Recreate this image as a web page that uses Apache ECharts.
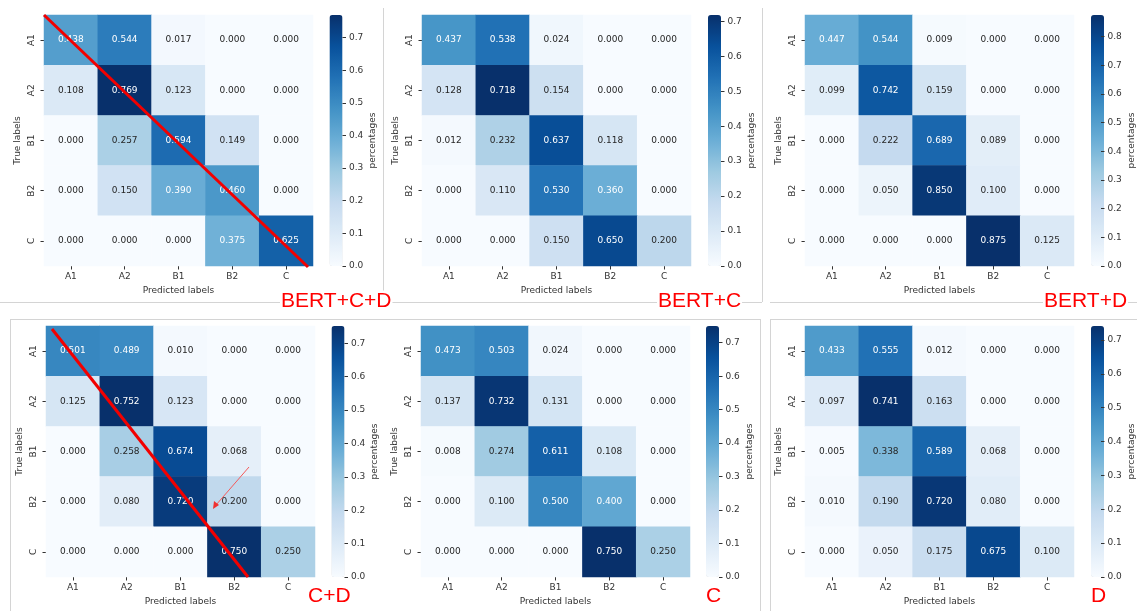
<!DOCTYPE html>
<html><head><meta charset="utf-8">
<script src="https://cdn.jsdelivr.net/npm/echarts@6/dist/echarts.min.js"></script>
<style>html,body{margin:0;padding:0;background:#fff}#c{width:1137px;height:611px}</style>
</head><body><div id="c"></div>
<script>
// ---------- data ----------
const classes = ['A1', 'A2', 'B1', 'B2', 'C'];
const panelTitles = ['BERT+C+D', 'BERT+C', 'BERT+D', 'C+D', 'C', 'D'];

const mBertCD = [
  [0.438, 0.544, 0.017, 0.000, 0.000],
  [0.108, 0.769, 0.123, 0.000, 0.000],
  [0.000, 0.257, 0.594, 0.149, 0.000],
  [0.000, 0.150, 0.390, 0.460, 0.000],
  [0.000, 0.000, 0.000, 0.375, 0.625]
];
const mBertC = [
  [0.437, 0.538, 0.024, 0.000, 0.000],
  [0.128, 0.718, 0.154, 0.000, 0.000],
  [0.012, 0.232, 0.637, 0.118, 0.000],
  [0.000, 0.110, 0.530, 0.360, 0.000],
  [0.000, 0.000, 0.150, 0.650, 0.200]
];
const mBertD = [
  [0.447, 0.544, 0.009, 0.000, 0.000],
  [0.099, 0.742, 0.159, 0.000, 0.000],
  [0.000, 0.222, 0.689, 0.089, 0.000],
  [0.000, 0.050, 0.850, 0.100, 0.000],
  [0.000, 0.000, 0.000, 0.875, 0.125]
];
const mCD = [
  [0.501, 0.489, 0.010, 0.000, 0.000],
  [0.125, 0.752, 0.123, 0.000, 0.000],
  [0.000, 0.258, 0.674, 0.068, 0.000],
  [0.000, 0.080, 0.720, 0.200, 0.000],
  [0.000, 0.000, 0.000, 0.750, 0.250]
];
const mC = [
  [0.473, 0.503, 0.024, 0.000, 0.000],
  [0.137, 0.732, 0.131, 0.000, 0.000],
  [0.008, 0.274, 0.611, 0.108, 0.000],
  [0.000, 0.100, 0.500, 0.400, 0.000],
  [0.000, 0.000, 0.000, 0.750, 0.250]
];
const mD = [
  [0.433, 0.555, 0.012, 0.000, 0.000],
  [0.097, 0.741, 0.163, 0.000, 0.000],
  [0.005, 0.338, 0.589, 0.068, 0.000],
  [0.010, 0.190, 0.720, 0.080, 0.000],
  [0.000, 0.050, 0.175, 0.675, 0.100]
];
const matrices = [mBertCD, mBertC, mBertD, mCD, mC, mD];

const cbTicks07 = [0.0, 0.1, 0.2, 0.3, 0.4, 0.5, 0.6, 0.7];
const cbTicks08 = [0.0, 0.1, 0.2, 0.3, 0.4, 0.5, 0.6, 0.7, 0.8];
const cbTicks = [cbTicks07, cbTicks07, cbTicks08, cbTicks07, cbTicks07, cbTicks07];

// ---------- layout / style ----------
const BLUES = ['#f7fbff','#deebf7','#c6dbef','#9ecae1','#6baed6','#4292c6','#2171b5','#08519c','#08306b'];
const layouts = [
  {left: 44,  top: 15,  cb: 329.5},
  {left: 422, top: 15,  cb: 708},
  {left: 805, top: 15,  cb: 1091},
  {left: 46,  top: 326, cb: 331.5},
  {left: 421, top: 326, cb: 706},
  {left: 805, top: 326, cb: 1091}
];
const GW = 269, GH = 251, CBW = 13;
const FONT = 'DejaVu Sans';
const FS = 9;
const TXT = '#333333';

function hex2rgb(h) { return [1, 3, 5].map(i => parseInt(h.substr(i, 2), 16)); }
function blues(t) {
  const n = BLUES.length - 1;
  const p = Math.min(Math.max(t, 0), 1) * n;
  const i = Math.min(Math.floor(p), n - 1);
  const f = p - i;
  const a = hex2rgb(BLUES[i]), b = hex2rgb(BLUES[i + 1]);
  return a.map((v, k) => v + (b[k] - v) * f);
}
function lum(rgb) {
  const lin = c => { c /= 255; return c <= 0.03928 ? c / 12.92 : Math.pow((c + 0.055) / 1.055, 2.4); };
  return 0.2126 * lin(rgb[0]) + 0.7152 * lin(rgb[1]) + 0.0722 * lin(rgb[2]);
}

const grid = [], xAxis = [], yAxis = [], series = [], visualMap = [];
matrices.forEach((m, i) => {
  const L = layouts[i];
  const vmax = Math.max(...m.flat());
  grid.push({left: L.left, top: L.top, width: GW, height: GH});
  grid.push({left: L.cb, top: L.top, width: CBW, height: GH});
  const tickStyle = {show: true, length: 3.5, alignWithLabel: true, lineStyle: {color: TXT, width: 1}};
  xAxis.push({
    gridIndex: 2 * i, type: 'category', data: classes, position: 'bottom',
    axisLine: {show: false}, axisTick: tickStyle,
    axisLabel: {fontSize: FS, color: TXT, margin: 6, fontFamily: FONT},
    splitLine: {show: false},
    name: 'Predicted labels', nameLocation: 'middle', nameGap: 20.5,
    nameTextStyle: {fontSize: FS, color: TXT, fontFamily: FONT}
  });
  yAxis.push({
    gridIndex: 2 * i, type: 'category', data: classes, inverse: true,
    axisLine: {show: false}, axisTick: tickStyle,
    axisLabel: {fontSize: FS, color: TXT, margin: 8, rotate: 90, fontFamily: FONT},
    splitLine: {show: false},
    name: 'True labels', nameLocation: 'middle', nameGap: 21.5,
    nameTextStyle: {fontSize: FS, color: TXT, fontFamily: FONT}
  });
  xAxis.push({gridIndex: 2 * i + 1, type: 'value', show: false, min: 0, max: 1});
  yAxis.push({
    gridIndex: 2 * i + 1, type: 'value', min: 0, max: vmax, position: 'right', z: 20,
    axisLine: {show: false, onZero: false}, splitLine: {show: false},
    axisTick: {show: true, inside: false, length: 3.5, customValues: cbTicks[i], lineStyle: {color: TXT, width: 1}},
    axisLabel: {customValues: cbTicks[i], formatter: v => v.toFixed(1), fontSize: FS, color: TXT, margin: 6.5, fontFamily: FONT},
    name: 'percentages', nameLocation: 'middle', nameGap: 26, nameRotate: 90,
    nameTextStyle: {fontSize: FS, color: TXT, fontFamily: FONT}
  });
  const data = [];
  m.forEach((row, r) => row.forEach((v, c) => {
    const col = lum(blues(v / vmax)) < 0.408 ? '#ffffff' : '#262626';
    data.push({value: [c, r, v], label: {color: col}});
  }));
  series.push({
    type: 'heatmap', xAxisIndex: 2 * i, yAxisIndex: 2 * i, data,
    label: {show: true, fontSize: FS, fontFamily: FONT, formatter: p => p.value[2].toFixed(3)},
    itemStyle: {borderWidth: 0},
    emphasis: {disabled: true}
  });
  visualMap.push({
    type: 'continuous', seriesIndex: i, min: 0, max: vmax, dimension: 2,
    inRange: {color: BLUES}, calculable: false, hoverLink: false,
    left: L.cb, top: L.top, itemWidth: CBW, itemHeight: GH, padding: 0,
    text: null, orient: 'vertical', z: 1
  });
});

// ---------- decorations ----------
const SEP = '#d4d4d4';
function seg(x1, y1, x2, y2, color, w, z) {
  return {type: 'line', shape: {x1, y1, x2, y2}, style: {stroke: color, lineWidth: w}, z: z || 1, silent: true};
}
const graphic = [
  seg(0, 302.5, 762, 302.5, SEP, 1),
  seg(383.5, 8, 383.5, 302, SEP, 1),
  seg(762.5, 8, 762.5, 302, SEP, 1),
  seg(770, 302.5, 1137, 302.5, SEP, 1),
  seg(10, 319.5, 760, 319.5, SEP, 1),
  seg(10.5, 319, 10.5, 611, SEP, 1),
  seg(760.5, 319, 760.5, 611, SEP, 1),
  seg(770, 319.5, 1137, 319.5, SEP, 1),
  seg(770.5, 319, 770.5, 611, SEP, 1)
];
// red annotation lines
graphic.push(seg(44, 15, 308, 267, '#f20000', 3, 100));
graphic.push(seg(52, 329, 248, 577, '#f20000', 3, 100));
graphic.push(seg(249, 467, 216, 505, '#f55a5a', 1, 100));
graphic.push({type: 'polygon', shape: {points: [[213, 509], [214, 501], [219, 505]]}, style: {fill: '#f03030'}, z: 100, silent: true});
// red panel labels
const titlePos = [[280, 301], [657, 301], [1043, 301], [307, 596], [705, 596], [1090, 596]];
panelTitles.forEach((t, i) => {
  graphic.push({type: 'text', x: titlePos[i][0], y: titlePos[i][1], z: 50, silent: true,
    style: {text: t, fill: '#ff0000', font: '21px "Liberation Sans", Arial, sans-serif',
      verticalAlign: 'middle', align: 'left', backgroundColor: '#ffffff', padding: [0, 1]}});
});

const chart = echarts.init(document.getElementById('c'), null, {renderer: 'canvas'});
chart.setOption({
  animation: false,
  backgroundColor: '#ffffff',
  textStyle: {fontFamily: FONT},
  grid, xAxis, yAxis, series, visualMap, graphic
});
</script>
</body></html>
